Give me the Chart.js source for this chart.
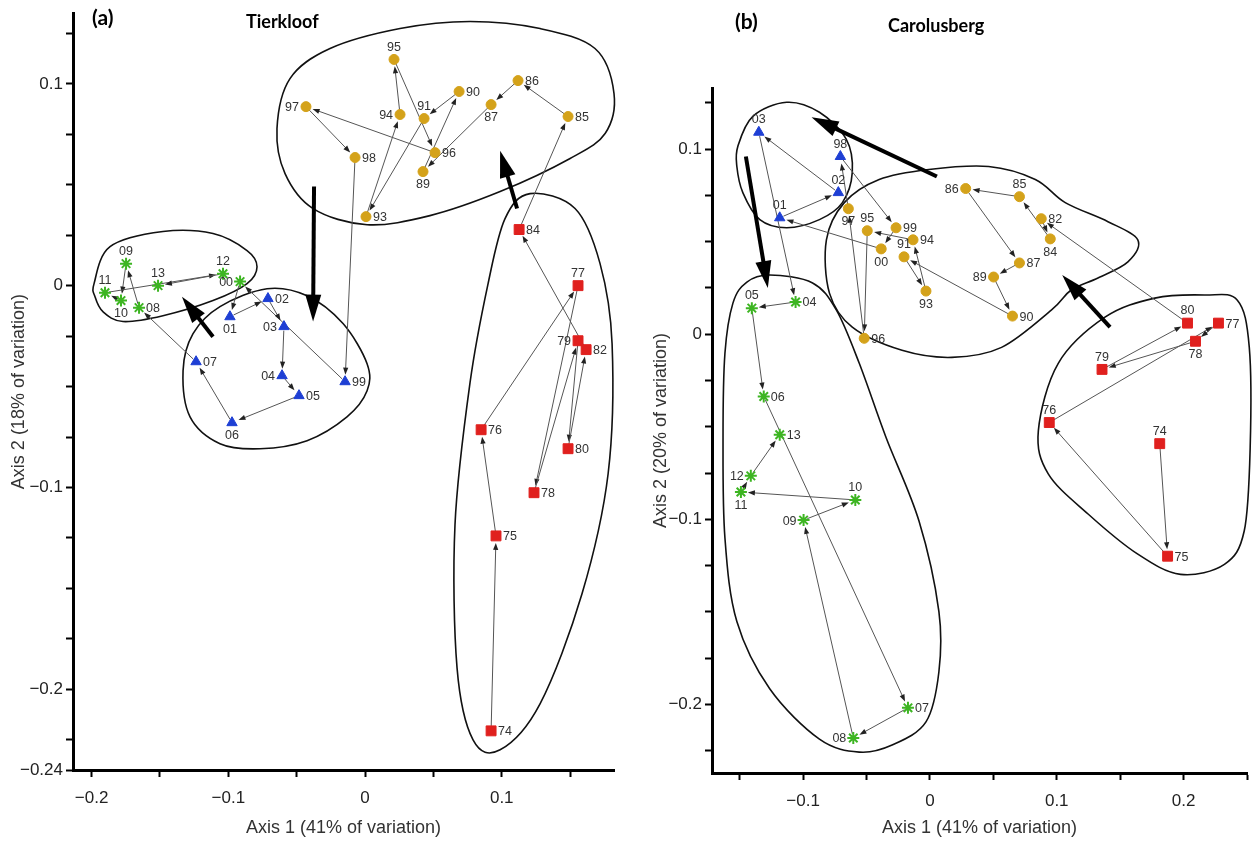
<!DOCTYPE html>
<html>
<head>
<meta charset="utf-8">
<script src="https://cdn.jsdelivr.net/npm/chart.js@4.4.1/dist/chart.umd.min.js"></script>
<style>
  html, body { margin: 0; padding: 0; background: #fff; }
  #wrap { position: relative; width: 1258px; height: 844px; overflow: hidden; }
  .panel { position: absolute; top: 0; height: 844px; }
  #pa { left: 0; width: 640px; }
  #pb { left: 640px; width: 618px; }
  .tag { position: absolute; font-family: Lato, "Open Sans", sans-serif; font-weight: bold; color: #000; white-space: nowrap; }
</style>
</head>
<body>
<div id="wrap">
  <div class="panel" id="pa"><canvas id="chartA" width="640" height="844"></canvas></div>
  <div class="panel" id="pb"><canvas id="chartB" width="618" height="844"></canvas></div>
  <div class="tag" style="left:92px;top:4px;font-size:21px;">(a)</div>
  <div class="tag" style="left:246px;top:10px;font-size:18px;">Tierkloof</div>
  <div class="tag" style="left:735px;top:8px;font-size:21px;">(b)</div>
  <div class="tag" style="left:888px;top:14px;font-size:18px;">Carolusberg</div>
</div>
<script>
// years in the order the trajectory follows
const yearSequence = ['74','75','76','77','78','79','80','82','84','85','86','87','89','90','91','93',
  '94','95','96','97','98','99','00','01','02','03','04','05','06','07','08','09','10','11','12','13'];

// ---- (a) Tierkloof ----
const aRedYears = ['74','75','76','77','78','79','80','82','84'];
const aRedX = [0.0922, 0.0958, 0.0849, 0.1558, 0.1236, 0.1558, 0.1485, 0.1617, 0.1127];
const aRedY = [-0.2206, -0.1240, -0.0714, 0.0000, -0.1026, -0.0273, -0.0808, -0.0317, 0.0278];

const aGoldYears = ['85','86','87','89','90','91','93','94','95','96','97','98'];
const aGoldX = [0.1485, 0.1119, 0.0922, 0.0424, 0.0688, 0.0432, 0.0007, 0.0256, 0.0212, 0.0512, -0.0432, -0.0073];
const aGoldY = [0.0838, 0.1016, 0.0897, 0.0565, 0.0962, 0.0828, 0.0342, 0.0848, 0.1121, 0.0659, 0.0887, 0.0635];

const aBlueYears = ['99','01','02','03','04','05','06','07'];
const aBlueX = [-0.0146, -0.0988, -0.0710, -0.0593, -0.0607, -0.0483, -0.0973, -0.1236];
const aBlueY = [-0.0476, -0.0154, -0.0064, -0.0203, -0.0446, -0.0545, -0.0679, -0.0377];

const aGreenYears = ['00','08','09','10','11','12','13'];
const aGreenX = [-0.0914, -0.1653, -0.1748, -0.1785, -0.1902, -0.1039, -0.1514];
const aGreenY = [0.0020, -0.0109, 0.0109, -0.0074, -0.0035, 0.0059, 0.0000];

const aXTicks = [-0.2, -0.15, -0.1, -0.05, 0, 0.05, 0.1, 0.15];
const aXLabels = ['-0.2', '-0.1', '0', '0.1'];
const aYTicks = [0.125, 0.1, 0.075, 0.05, 0.025, 0, -0.025, -0.05, -0.075, -0.1, -0.125, -0.15, -0.175, -0.2, -0.225, -0.24];
const aYLabels = ['0.1', '0', '-0.1', '-0.2', '-0.24'];

// group outlines (axis units)
const aHullGold = [[-0.0644,0.0778],[-0.0549,0.1026],[-0.0256,0.1175],[0.0256,0.1274],[0.0768,0.1309],[0.1280,0.1274],
  [0.1682,0.1175],[0.1821,0.0952],[0.1756,0.0754],[0.1500,0.0630],[0.0988,0.0466],[0.0475,0.0347],[0.0015,0.0302],
  [-0.0380,0.0382],[-0.0585,0.0555]];
const aHullGreen = [[-0.1982,0.0010],[-0.1865,0.0193],[-0.1478,0.0268],[-0.1112,0.0258],[-0.0863,0.0174],[-0.0790,0.0094],
  [-0.0863,0.0010],[-0.1112,-0.0074],[-0.1478,-0.0149],[-0.1770,-0.0178],[-0.1917,-0.0129],[-0.1975,-0.0055]];
const aHullBlue = [[-0.1331,-0.0421],[-0.1258,-0.0238],[-0.1061,-0.0104],[-0.0717,-0.0015],[-0.0424,-0.0050],[-0.0161,-0.0188],
  [0.0015,-0.0387],[0.0015,-0.0521],[-0.0132,-0.0650],[-0.0424,-0.0768],[-0.0768,-0.0808],[-0.1061,-0.0783],[-0.1280,-0.0650]];
const aHullRed = [[0.1207,0.0456],[0.1536,0.0382],[0.1719,0.0109],[0.1807,-0.0288],[0.1778,-0.0932],[0.1587,-0.1527],
  [0.1280,-0.2072],[0.0988,-0.2300],[0.0790,-0.2251],[0.0673,-0.1894],[0.0658,-0.1185],[0.0768,-0.0481],[0.0900,0.0010],
  [0.1024,0.0332]];
// shifts between groups: [tail, tip]
const aShifts = [[[-0.0373,0.0491],[-0.0380,-0.0178]], [[-0.1112,-0.0253],[-0.1339,-0.0055]], [[0.1112,0.0382],[0.0988,0.0669]]];

// ---- (b) Carolusberg ----
const bRedYears = ['74','75','76','77','78','79','80'];
const bRedX = [0.1812, 0.1874, 0.0941, 0.2275, 0.2094, 0.1357, 0.2031];
const bRedY = [-0.0591, -0.1199, -0.0477, 0.0060, -0.0038, -0.0190, 0.0060];

const bGoldYears = ['82','84','85','86','87','89','90','91','93','94','95','96','97','99','00'];
const bGoldX = [0.0878, 0.0949, 0.0706, 0.0282, 0.0706, 0.0502, 0.0651, -0.0204, -0.0031, -0.0133, -0.0494, -0.0518, -0.0643, -0.0267, -0.0384];
const bGoldY = [0.0624, 0.0515, 0.0743, 0.0787, 0.0385, 0.0309, 0.0098, 0.0418, 0.0233, 0.0510, 0.0559, -0.0022, 0.0678, 0.0575, 0.0461];

const bBlueYears = ['98','01','02','03'];
const bBlueX = [-0.0706, -0.1184, -0.0722, -0.1349];
const bBlueY = [0.0960, 0.0629, 0.0765, 0.1091];

const bGreenYears = ['04','05','06','07','08','09','10','11','12','13'];
const bGreenX = [-0.1059, -0.1404, -0.1310, -0.0173, -0.0604, -0.0996, -0.0588, -0.1490, -0.1412, -0.1184];
const bGreenY = [0.0174, 0.0141, -0.0336, -0.2018, -0.2181, -0.1004, -0.0895, -0.0852, -0.0765, -0.0543];

const bXTicks = [-0.15, -0.1, -0.05, 0, 0.05, 0.1, 0.15, 0.2, 0.25];
const bXLabels = ['-0.1', '0', '0.1', '0.2'];
const bYTicks = [0.125, 0.1, 0.075, 0.05, 0.025, 0, -0.025, -0.05, -0.075, -0.1, -0.125, -0.15, -0.175, -0.2, -0.225];
const bYLabels = ['0.1', '0', '-0.1', '-0.2'];

const bHullBlue = [[-0.1514,0.1015],[-0.1396,0.1177],[-0.1129,0.1253],[-0.0871,0.1199],[-0.0659,0.1053],[-0.0612,0.0874],
  [-0.0690,0.0711],[-0.0871,0.0619],[-0.1129,0.0575],[-0.1341,0.0619],[-0.1475,0.0765],[-0.1522,0.0906]];
const bHullGold = [[-0.0008,0.0890],[0.0463,0.0906],[0.0831,0.0836],[0.1067,0.0711],[0.1404,0.0608],[0.1639,0.0510],
  [0.1561,0.0391],[0.1325,0.0304],[0.1114,0.0239],[0.0957,0.0130],[0.0565,-0.0071],[0.0173,-0.0125],[-0.0220,-0.0087],
  [-0.0612,0.0038],[-0.0792,0.0222],[-0.0816,0.0510],[-0.0675,0.0711],[-0.0400,0.0836]];
const bHullGreen = [[-0.1263,0.0320],[-0.0925,0.0277],[-0.0737,0.0130],[-0.0557,-0.0157],[-0.0345,-0.0559],[-0.0086,-0.1009],
  [0.0071,-0.1498],[0.0071,-0.1823],[-0.0031,-0.2094],[-0.0298,-0.2219],[-0.0557,-0.2257],[-0.0871,-0.2187],
  [-0.1263,-0.1915],[-0.1522,-0.1552],[-0.1616,-0.1101],[-0.1631,-0.0559],[-0.1616,-0.0103],[-0.1553,0.0168],[-0.1443,0.0282]];
const bHullRed = [[0.0855,-0.0521],[0.1012,-0.0157],[0.1380,0.0092],[0.1773,0.0195],[0.2165,0.0212],[0.2424,0.0184],
  [0.2518,-0.0071],[0.2525,-0.0613],[0.2478,-0.1063],[0.2322,-0.1243],[0.1976,-0.1297],[0.1639,-0.1188],[0.1247,-0.0971],
  [0.0933,-0.0754]];
const bShifts = [[[0.0055,0.0852],[-0.0933,0.1172]], [[-0.1451,0.0960],[-0.1278,0.0250]], [[0.1420,0.0038],[0.1043,0.0320]]];

// where each year label sits relative to its marker (style, not data)
const aLabelPos = {'74':'r','75':'r','76':'r','77':'t','78':'r','79':'l','80':'r','82':'r','84':'r',
  '85':'r','86':'r','87':'b','89':'b','90':'r','91':'t','93':'r','94':'l','95':'t','96':'r','97':'l','98':'r',
  '99':'r','01':'b','02':'r','03':'l','04':'l','05':'r','06':'b','07':'r',
  '00':'l','08':'r','09':'t','10':'b','11':'t','12':'t','13':'t'};
const bLabelPos = {'74':'t','75':'r','76':'t','77':'r','78':'b','79':'t','80':'t',
  '82':'r','84':'b','85':'t','86':'l','87':'r','89':'l','90':'r','91':'t','93':'b','94':'r','95':'t','96':'r',
  '97':'b','99':'r','00':'b','98':'t','01':'t','02':'t','03':'t',
  '04':'r','05':'t','06':'r','07':'r','08':'l','09':'l','10':'t','11':'b','12':'l','13':'r'};

const GOLD = '#D4A21A', RED = '#E0201E', BLUE = '#1E3FD4', GREEN = '#3DB522';
const NARROW = '"Liberation Sans Narrow", "Liberation Sans", Arial, sans-serif';

function group(years, xs, ys, style) {
  return Object.assign({
    data: years.map((yr, i) => ({ x: xs[i], y: ys[i], year: yr }))
  }, style);
}

const goldStyle  = { pointStyle: 'circle', pointRadius: 5, backgroundColor: GOLD, borderColor: GOLD, borderWidth: 1 };
const redStyle   = { pointStyle: 'rect', pointRadius: 7, backgroundColor: RED, borderColor: RED, borderWidth: 1 };
const blueStyle  = { pointStyle: 'triangle', pointRadius: 6, backgroundColor: BLUE, borderColor: BLUE, borderWidth: 1 };
const greenStyle = { pointStyle: 'star', pointRadius: 6, backgroundColor: GREEN, borderColor: GREEN, borderWidth: 2 };

function smoothClosed(ctx, pts) {
  const n = pts.length;
  ctx.beginPath();
  ctx.moveTo(pts[0][0], pts[0][1]);
  for (let i = 0; i < n; i++) {
    const p0 = pts[(i - 1 + n) % n], p1 = pts[i], p2 = pts[(i + 1) % n], p3 = pts[(i + 2) % n];
    ctx.bezierCurveTo(p1[0] + (p2[0] - p0[0]) / 6, p1[1] + (p2[1] - p0[1]) / 6,
                      p2[0] - (p3[0] - p1[0]) / 6, p2[1] - (p3[1] - p1[1]) / 6, p2[0], p2[1]);
  }
  ctx.closePath();
  ctx.stroke();
}

function arrow(ctx, x1, y1, x2, y2, o) {
  const a = Math.atan2(y2 - y1, x2 - x1), c = Math.cos(a), s = Math.sin(a);
  const sx = x1 + c * o.gap0, sy = y1 + s * o.gap0;
  const ex = x2 - c * o.gap1, ey = y2 - s * o.gap1;
  ctx.beginPath();
  ctx.moveTo(sx, sy);
  ctx.lineTo(ex - c * o.head * 0.7, ey - s * o.head * 0.7);
  ctx.stroke();
  ctx.beginPath();
  ctx.moveTo(ex, ey);
  ctx.lineTo(ex - c * o.head + s * o.half, ey - s * o.head - c * o.half);
  ctx.lineTo(ex - c * o.head - s * o.half, ey - s * o.head + c * o.half);
  ctx.closePath();
  ctx.fill();
}

function makeOverlay(hulls, shifts, labelPos) {
  return {
    id: 'overlay',
    beforeDatasetsDraw(chart) {
      const { ctx, scales: { x, y } } = chart;
      const px = v => [x.getPixelForValue(v[0]), y.getPixelForValue(v[1])];
      const byYear = {};
      chart.data.datasets.forEach(ds => ds.data.forEach(d => { byYear[d.year] = [d.x, d.y]; }));
      ctx.save();
      ctx.strokeStyle = '#111';
      ctx.lineWidth = 1.6;
      hulls.forEach(h => smoothClosed(ctx, h.map(px)));

      // year to year trajectory
      ctx.strokeStyle = '#555';
      ctx.fillStyle = '#222';
      ctx.lineWidth = 1;
      const seq = yearSequence.filter(yr => byYear[yr]);
      for (let i = 0; i < seq.length - 1; i++) {
        const p = px(byYear[seq[i]]), q = px(byYear[seq[i + 1]]);
        arrow(ctx, p[0], p[1], q[0], q[1], { gap0: 4, gap1: 7, head: 7, half: 2.6 });
      }

      // shifts between groups
      ctx.strokeStyle = '#000';
      ctx.fillStyle = '#000';
      ctx.lineWidth = 4;
      shifts.forEach(s => {
        const p = px(s[0]), q = px(s[1]);
        arrow(ctx, p[0], p[1], q[0], q[1], { gap0: 0, gap1: 0, head: 27, half: 8 });
      });
      ctx.restore();
    },
    afterDatasetsDraw(chart) {
      const { ctx, scales: { x, y } } = chart;
      ctx.save();
      ctx.font = '12.5px "Liberation Sans", Arial, sans-serif';
      ctx.fillStyle = '#333';
      chart.data.datasets.forEach(ds => ds.data.forEach(d => {
        const X = x.getPixelForValue(d.x), Y = y.getPixelForValue(d.y);
        const pos = labelPos[d.year] || 'r';
        if (pos === 'r') { ctx.textAlign = 'left'; ctx.textBaseline = 'middle'; ctx.fillText(d.year, X + 7, Y + 1); }
        else if (pos === 'l') { ctx.textAlign = 'right'; ctx.textBaseline = 'middle'; ctx.fillText(d.year, X - 7, Y + 1); }
        else if (pos === 't') { ctx.textAlign = 'center'; ctx.textBaseline = 'bottom'; ctx.fillText(d.year, X, Y - 6); }
        else { ctx.textAlign = 'center'; ctx.textBaseline = 'top'; ctx.fillText(d.year, X, Y + 7); }
      }));
      ctx.restore();
    }
  };
}

function axis(ticks, labels, min, max, title, fit, titlePad, tickPad) {
  const isX = fit.h !== undefined;
  return {
    type: 'linear', min: min, max: max,
    afterBuildTicks: s => { s.ticks = ticks.map(v => ({ value: v })); },
    afterFit: s => { if (isX) s.height = fit.h; else s.width = fit.w; },
    grid: { drawOnChartArea: false, drawTicks: true, tickLength: 7, tickWidth: 2, tickColor: '#000', color: '#000' },
    border: { display: true, color: '#000', width: 3 },
    ticks: {
      autoSkip: false, maxRotation: 0, padding: tickPad, color: '#222',
      font: { family: NARROW, size: 17 },
      callback: v => {
        const t = labels.find(l => Math.abs(parseFloat(l) - v) < 1e-9);
        return t === undefined ? '' : t.replace('-', '\u2212');
      }
    },
    title: { display: true, text: title, color: '#333', font: { family: NARROW, size: 18 }, padding: titlePad }
  };
}

function makeChart(id, datasets, opts) {
  return new Chart(document.getElementById(id), {
    type: 'scatter',
    data: { datasets: datasets },
    options: {
      responsive: false, animation: false, events: [], devicePixelRatio: 1,
      layout: { padding: opts.padding },
      plugins: { legend: { display: false }, tooltip: { enabled: false } },
      scales: { x: opts.x, y: opts.y }
    },
    plugins: [makeOverlay(opts.hulls, opts.shifts, opts.labelPos)]
  });
}

makeChart('chartA', [
  group(aRedYears, aRedX, aRedY, redStyle),
  group(aGoldYears, aGoldX, aGoldY, goldStyle),
  group(aBlueYears, aBlueX, aBlueY, blueStyle),
  group(aGreenYears, aGreenX, aGreenY, greenStyle)
], {
  padding: { top: 8, right: 26, bottom: 0, left: 0 },
  x: axis(aXTicks, aXLabels, -0.2136, 0.1821, 'Axis 1 (41% of variation)', { h: 74 }, { top: 0, bottom: 5 }, 11),
  y: axis(aYTicks, aYLabels, -0.24, 0.135, 'Axis 2 (18% of variation)', { w: 73 }, { top: 8, bottom: 0 }, 3),
  hulls: [aHullGold, aHullGreen, aHullBlue, aHullRed],
  shifts: aShifts,
  labelPos: aLabelPos
});

makeChart('chartB', [
  group(bRedYears, bRedX, bRedY, redStyle),
  group(bGoldYears, bGoldX, bGoldY, goldStyle),
  group(bBlueYears, bBlueX, bBlueY, blueStyle),
  group(bGreenYears, bGreenX, bGreenY, greenStyle)
], {
  padding: { top: 88, right: 8, bottom: 0, left: 0 },
  x: axis(bXTicks, bXLabels, -0.1718, 0.25, 'Axis 1 (41% of variation)', { h: 71 }, { top: 0, bottom: 5 }, 11),
  y: axis(bYTicks, bYLabels, -0.237, 0.133, 'Axis 2 (20% of variation)', { w: 72 }, { top: 10, bottom: 0 }, 3),
  hulls: [bHullBlue, bHullGold, bHullGreen, bHullRed],
  shifts: bShifts,
  labelPos: bLabelPos
});
</script>
</body>
</html>
